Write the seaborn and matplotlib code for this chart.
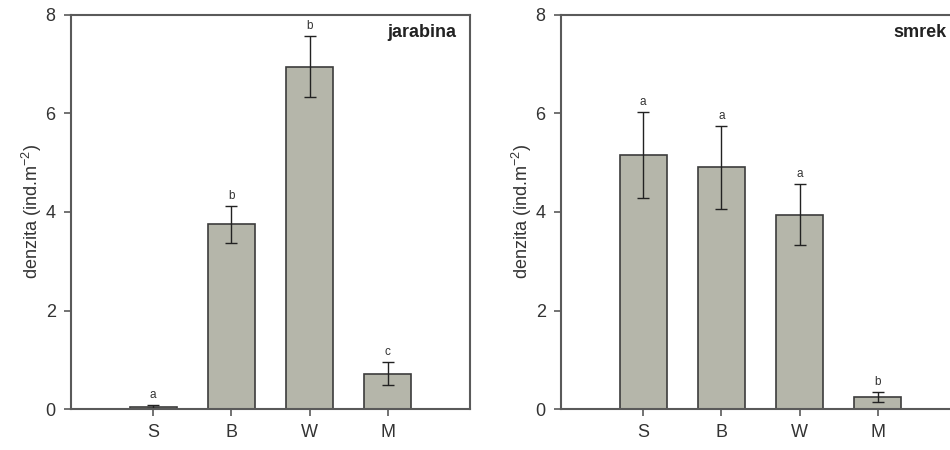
import pandas as pd
import seaborn as sns
import matplotlib.pyplot as plt

# data
sites = ["S", "B", "W", "M"]
jarabina_mean = [0.05, 3.75, 6.95, 0.72]
jarabina_err = [0.03, 0.37, 0.62, 0.23]
jarabina_letters = ["a", "b", "b", "c"]
smrek_mean = [5.16, 4.91, 3.94, 0.25]
smrek_err = [0.87, 0.84, 0.62, 0.10]
smrek_letters = ["a", "a", "a", "b"]

sns.set_style("ticks")
plt.rcParams["font.family"] = ["Liberation Sans", "DejaVu Sans"]
plt.rcParams["mathtext.default"] = "regular"

BAR_COLOR = "#b7b8a8"
EDGE = "#3c3c3c"
SPINE = "#5a5a5a"


def draw_panel(ax, means, errs, letters, name):
    df = pd.DataFrame({"site": sites, "denzita": means})
    sns.barplot(data=df, x="site", y="denzita", color=BAR_COLOR,
                edgecolor=EDGE, linewidth=1.2, width=0.6, ax=ax,
                errorbar=None)
    xs = range(len(sites))
    ax.errorbar(xs, means, yerr=errs, fmt="none", ecolor="#222222",
                elinewidth=1.0, capsize=4.5, capthick=1.0)
    for x, m, e, lab in zip(xs, means, errs, letters):
        ax.text(x, m + e + 0.08, lab, ha="center", va="bottom",
                fontsize=8.5, color="#333333")
    ax.text(0.965, 0.955, name, transform=ax.transAxes, ha="right",
            va="center", fontsize=13, fontweight="bold", color="#222222")

    ax.set_xlim(-1.05, 4.05)
    ax.set_ylim(0, 8)
    ax.set_yticks([0, 2, 4, 6, 8])
    ax.set_xlabel("")
    ax.set_ylabel("denzita (ind.m$^{-2}$)", fontsize=13, color="#333333",
                  labelpad=1)
    ax.tick_params(axis="both", direction="out", length=5, width=1.2,
                   color=SPINE, labelsize=13, labelcolor="#333333", pad=6)
    for sp in ax.spines.values():
        sp.set_visible(True)
        sp.set_color(SPINE)
        sp.set_linewidth(1.5)


fig = plt.figure(figsize=(9.5, 4.5), dpi=100)
ax1 = fig.add_axes([0.0747, 0.0911, 0.42, 0.8756])
ax2 = fig.add_axes([0.5905, 0.0911, 0.42, 0.8756])

draw_panel(ax1, jarabina_mean, jarabina_err, jarabina_letters, "jarabina")
draw_panel(ax2, smrek_mean, smrek_err, smrek_letters, "smrek")

fig.savefig("out.png", dpi=100)
